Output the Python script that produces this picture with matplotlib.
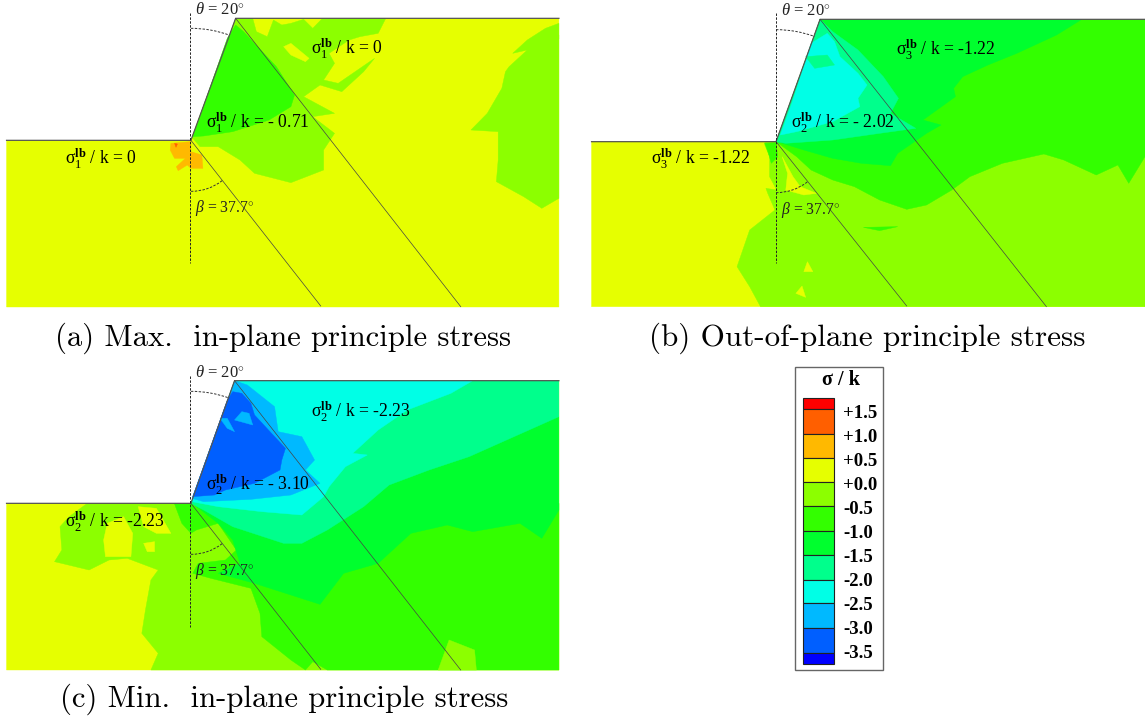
import matplotlib
matplotlib.use('Agg')
import matplotlib.pyplot as plt
from matplotlib.patches import Polygon, Rectangle, Arc

plt.rcParams['mathtext.fontset'] = 'custom'
plt.rcParams['mathtext.rm'] = 'Liberation Serif'
plt.rcParams['mathtext.it'] = 'Liberation Serif:italic'
plt.rcParams['mathtext.bf'] = 'Liberation Serif:bold'

# contour colours, top of the legend to the bottom
RED, ORANGE_RED, ORANGE, YELLOW = '#ff0000', '#ff5f00', '#ffb900', '#e6ff00'
YGREEN, GREEN, GREEN2, TEAL = '#8cff00', '#33ff00', '#00ff2e', '#00ff8c'
CYAN, SKY, BLUE, DEEP = '#00ffe6', '#00b9ff', '#005fff', '#0000ff'

legend_colors = [RED, ORANGE_RED, ORANGE, YELLOW, YGREEN, GREEN, GREEN2, TEAL, CYAN, SKY, BLUE, DEEP]
legend_labels = ['+1.5', '+1.0', '+0.5', '+0.0', '-0.5', '-1.0', '-1.5', '-2.0', '-2.5', '-3.0', '-3.5']
legend_edges = [398, 409, 434, 458, 482, 506, 531, 555, 580, 603, 628, 653, 664]

# contour outlines
a_soil = [(18, 421), (525, 421), (648, 55), (1537, 55), (1537, 921), (18, 921)]
a_regions = [
    (YELLOW, a_soil),
    (YGREEN, [(648, 55), (695, 55), (705, 95), (735, 110), (752, 60), (775, 75), (800, 70), (835, 58),
              (860, 85), (885, 57), (955, 57), (1060, 57), (1040, 100), (990, 110), (960, 120), (905, 160),
              (920, 190), (890, 240), (930, 250), (1030, 175), (1000, 215), (940, 275), (880, 255), (835, 290),
              (920, 340), (860, 350), (920, 400), (890, 450), (890, 510), (800, 548), (700, 520), (660, 480),
              (600, 440), (550, 440), (528, 412)]),
    (YGREEN, [(1537, 70), (1500, 85), (1450, 120), (1410, 160), (1450, 150), (1400, 200), (1390, 215),
              (1380, 265), (1340, 340), (1295, 390), (1370, 395), (1370, 480), (1365, 545), (1440, 590),
              (1490, 625), (1537, 595)]),
    (YELLOW, [(780, 140), (800, 130), (850, 175), (840, 185), (800, 165)]),
    (YGREEN, [(1500, 130), (1537, 105), (1537, 117)]),
    (GREEN, [(648, 75), (670, 95), (760, 200), (810, 285), (800, 320), (740, 360), (640, 395), (560, 408),
             (530, 410), (625, 115)]),
    (ORANGE, [(470, 430), (525, 425), (525, 455), (555, 465), (558, 505), (525, 505), (515, 495), (490, 512),
              (485, 500), (510, 475), (480, 475), (468, 450)]),
    (ORANGE_RED, [(480, 430), (488, 432), (484, 442)]),
]

b_soil = [(32, 425), (543, 425), (665, 58), (1565, 58), (1565, 920), (32, 920)]
b_regions = [
    (YELLOW, b_soil),
    (YGREEN, [(515, 425), (1565, 425), (1565, 920), (500, 920), (470, 860), (435, 800), (470, 690), (540, 630),
              (520, 580), (515, 565), (545, 570), (525, 530), (525, 470), (510, 430)]),
    (YELLOW, [(560, 470), (590, 530), (610, 560), (655, 580), (620, 585), (570, 570), (575, 520)]),
    (YELLOW, [(620, 815), (630, 785), (645, 815)]),
    (YELLOW, [(598, 880), (615, 858), (625, 892)]),
    (GREEN, [(543, 425), (665, 58), (1565, 58), (1565, 470), (1520, 550), (1490, 495), (1430, 525), (1340, 480),
             (1285, 462), (1170, 490), (1080, 530), (1030, 570), (960, 615), (905, 628), (830, 600), (760, 560),
             (700, 540), (640, 510), (600, 470)]),
    (GREEN, [(785, 682), (880, 680), (830, 692)]),
    (GREEN, [(512, 430), (543, 428), (548, 470), (530, 490), (522, 460)]),
    (GREEN2, [(665, 58), (1390, 58), (1320, 105), (1210, 160), (1130, 195), (1060, 230), (1035, 265), (1040, 290),
              (950, 360), (1000, 375), (960, 400), (880, 460), (860, 497), (780, 490), (700, 475), (620, 450),
              (545, 425)]),
    (TEAL, [(665, 58), (700, 95), (770, 150), (840, 230), (882, 295), (860, 340), (930, 385), (830, 400),
            (700, 420), (570, 430), (543, 425)]),
    (CYAN, [(640, 130), (685, 100), (705, 125), (720, 170), (770, 220), (795, 255), (770, 295), (775, 320),
            (700, 365), (600, 395), (555, 405), (590, 300)]),
    (TEAL, [(625, 170), (685, 165), (705, 195), (650, 205)]),
]

c_soil = [(18, 430), (525, 430), (645, 62), (1537, 62), (1537, 930), (18, 930)]
c_regions = [
    (YELLOW, c_soil),
    (YGREEN, [(240, 430), (1537, 430), (1537, 930), (415, 930), (435, 880), (390, 820), (400, 750), (415, 660),
              (435, 630), (350, 595), (300, 600), (245, 630), (150, 605), (170, 570), (165, 500), (190, 470)]),
    (YELLOW, [(295, 490), (340, 470), (365, 520), (360, 590), (290, 590), (285, 540)]),
    (YELLOW, [(380, 440), (430, 445), (470, 520), (430, 520), (395, 500)]),
    (YELLOW, [(395, 550), (425, 545), (425, 575), (405, 575)]),
    (GREEN, [(480, 432), (1537, 430), (1537, 930), (900, 930), (860, 905), (840, 930), (800, 900), (720, 830),
             (715, 760), (690, 685), (580, 655), (530, 640), (545, 610), (620, 600), (650, 570), (600, 490),
             (540, 510), (525, 520), (500, 490)]),
    (YGREEN, [(1205, 930), (1235, 840), (1305, 870), (1310, 930)]),
    (GREEN2, [(530, 430), (1537, 170), (1537, 450), (1490, 535), (1430, 490), (1300, 515), (1230, 495), (1130, 520),
              (1040, 610), (945, 640), (880, 733), (700, 670), (600, 640), (660, 610), (640, 540), (600, 490),
              (570, 465)]),
    (TEAL, [(645, 62), (1537, 62), (1537, 170), (1290, 290), (1180, 330), (1070, 375), (1000, 440), (900, 510),
            (830, 550), (780, 550), (640, 500), (560, 450), (525, 430)]),
    (CYAN, [(645, 62), (1300, 62), (1240, 100), (1120, 150), (1040, 210), (970, 280), (1010, 285), (950, 320),
            (905, 380), (890, 410), (830, 465), (720, 455), (600, 440), (528, 425)]),
    (SKY, [(645, 62), (680, 75), (755, 140), (765, 215), (830, 230), (865, 300), (840, 330), (880, 370),
           (800, 405), (690, 418), (560, 425), (528, 415)]),
    (BLUE, [(640, 95), (665, 100), (690, 130), (700, 165), (785, 265), (775, 300), (770, 330), (700, 370),
            (620, 390), (590, 405), (530, 410), (625, 120)]),
    (SKY, [(645, 180), (665, 155), (685, 160), (695, 195)]),
    (SKY, [(605, 175), (625, 175), (645, 215), (625, 205)]),
]

# panel settings: crop origin and crop scale
panels = [
    dict(x0=0, y0=0, sx=2.75, regions=a_regions, toe=(525, 421), crest=(648, 55), right=1537, left=18, bottom=921,
         top=55, slip1=(882, 918), slip2=(1267, 920), cap='(a) Max.  in-plane principle stress', cap_x=55, cap_y=338,
         cap_size=22.15, dash=(40, 790), labels=[(855, 147, r'$\mathrm{σ}_1^{\mathbf{lb}}$ / k = 0'),
                                                 (567, 367, r'$\mathrm{σ}_1^{\mathbf{lb}}$ / k = - 0.71'),
                                                 (180, 475, r'$\mathrm{σ}_1^{\mathbf{lb}}$ / k = 0')]),
    dict(x0=580, y0=0, sx=2.77, regions=b_regions, toe=(543, 425), crest=(665, 58), right=1565, left=32, bottom=920,
         top=58, slip1=(905, 918), slip2=(1292, 920), cap='(b) Out-of-plane principle stress', cap_x=649, cap_y=338,
         cap_size=22.4, dash=(40, 790), labels=[(875, 150, r'$\mathrm{σ}_3^{\mathbf{lb}}$ / k = -1.22'),
                                                (585, 368, r'$\mathrm{σ}_2^{\mathbf{lb}}$ / k = - 2.02'),
                                                (197, 477, r'$\mathrm{σ}_3^{\mathbf{lb}}$ / k = -1.22')]),
    dict(x0=0, y0=360, sx=2.75, regions=c_regions, toe=(525, 430), crest=(645, 62), right=1537, left=18, bottom=930,
         top=62, slip1=(882, 928), slip2=(1267, 930), cap='(c) Min.  in-plane principle stress', cap_x=60, cap_y=699,
         cap_size=22.15, dash=(48, 800), labels=[(855, 155, r'$\mathrm{σ}_2^{\mathbf{lb}}$ / k = -2.23'),
                                                 (567, 375, r'$\mathrm{σ}_2^{\mathbf{lb}}$ / k = - 3.10'),
                                                 (180, 485, r'$\mathrm{σ}_2^{\mathbf{lb}}$ / k = -2.23')]),
]


def draw_panel(ax, p):
    def pt(x, y):
        return p['x0'] + x / p['sx'], p['y0'] + y / 3

    for color, outline in p['regions']:
        ax.add_patch(Polygon([pt(x, y) for x, y in outline], closed=True, fc=color, ec=color, lw=0.3, zorder=2))

    toe = pt(*p['toe'])
    crest = pt(*p['crest'])
    # ground surface
    ax.plot([pt(p['left'], 0)[0], toe[0], crest[0], pt(p['right'], 0)[0]], [toe[1], toe[1], crest[1], crest[1]],
            color='#555555', lw=0.9, zorder=3)
    # slip lines
    ax.plot([crest[0], pt(*p['slip2'])[0]], [crest[1], pt(*p['slip2'])[1]], color='#444444', lw=0.5, zorder=3)
    ax.plot([toe[0], pt(*p['slip1'])[0]], [toe[1], pt(*p['slip1'])[1]], color='#444444', lw=0.5, zorder=3)
    # vertical reference line and the two angle arcs
    dash_x = toe[0] - 0.5
    ax.plot([dash_x, dash_x], [pt(0, p['dash'][0])[1], pt(0, p['dash'][1])[1]], color='#222222', lw=0.7,
            ls=(0, (2.5, 1.5)), zorder=3)
    ax.add_patch(Arc(toe, 224, 224, theta1=-90, theta2=-70, color='#333333', lw=0.7, ls=(0, (2.5, 1.5)), zorder=3))
    ax.add_patch(Arc(toe, 102, 102, theta1=52.3, theta2=90, color='#333333', lw=0.7, ls=(0, (2.5, 1.5)), zorder=3))

    for x, y, s in p['labels']:
        ax.text(*pt(x, y), s, fontsize=12.7, va='center', ha='left', family='Liberation Serif', zorder=4)
    ax.text(dash_x + 5, crest[1] - 8, r'$\mathit{\theta}$ = 20$^{\circ}$', fontsize=12, va='center', ha='left',
            family='Liberation Serif', color='#222222', zorder=4)
    ax.text(dash_x + 5, toe[1] + 68, r'$\mathit{\beta}$ = 37.7$^{\circ}$', fontsize=11.3, va='center', ha='left',
            family='Liberation Serif', color='#222222', zorder=4)
    ax.text(p['cap_x'], p['cap_y'], p['cap'], fontsize=p['cap_size'], family='cmr10', va='center', ha='left', zorder=4)


def draw_legend(ax):
    ax.add_patch(Rectangle((795, 367), 88, 303, fc='white', ec='#666666', lw=1.0, zorder=2))
    ax.text(841, 380, 'σ / k', fontsize=14.5, fontweight='bold', family='Liberation Serif', ha='center', va='center',
            zorder=4)
    # first band is narrow, the others run label to label
    for i, color in enumerate(legend_colors):
        top, bottom = legend_edges[i], legend_edges[i + 1]
        ax.add_patch(Rectangle((803, top), 31, bottom - top, fc=color, ec='#222222', lw=0.8, zorder=3))
    for i, label in enumerate(legend_labels):
        ax.text(843, 413 + i * 24.05, label, fontsize=13.5, fontweight='bold', family='Liberation Serif', ha='left',
                va='center', zorder=4)


fig = plt.figure(figsize=(11.45, 7.22), dpi=100)
ax = fig.add_axes([0, 0, 1, 1])
ax.set_xlim(0, 1145)
ax.set_ylim(722, 0)
ax.axis('off')

for panel in panels:
    draw_panel(ax, panel)
draw_legend(ax)

fig.savefig('out.png', dpi=100)
